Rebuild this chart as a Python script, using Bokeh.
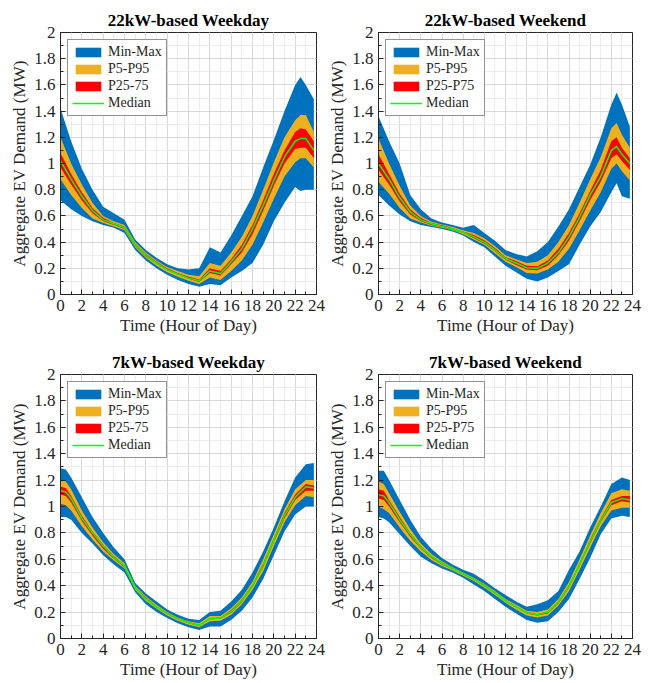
from bokeh.plotting import figure
from bokeh.layouts import gridplot
from bokeh.models import Range1d, FixedTicker, Legend
from bokeh.embed import file_html
from bokeh.resources import INLINE

# ---------------- data ----------------
HOURS_22 = [0, 1, 2, 3, 4, 5, 6, 7, 8, 9, 10, 11, 12, 13, 14, 15, 16, 17, 18, 19, 20, 21, 22, 22.5, 23, 23.75]
HOURS_7 = [0, 0.5, 1, 2, 3, 4, 5, 6, 7, 8, 9, 10, 11, 12, 13, 14, 15, 16, 17, 18, 19, 20, 21, 22, 23, 23.75]

# 22kW weekday
WD22_MIN = [0.72, 0.65, 0.60, 0.56, 0.53, 0.51, 0.47, 0.34, 0.26, 0.20, 0.15, 0.11, 0.08, 0.06, 0.08, 0.07, 0.13, 0.18, 0.24, 0.38, 0.56, 0.70, 0.82, 0.79, 0.80, 0.80]
WD22_P5 = [0.88, 0.76, 0.66, 0.58, 0.545, 0.52, 0.49, 0.36, 0.28, 0.22, 0.17, 0.135, 0.105, 0.08, 0.13, 0.11, 0.18, 0.26, 0.38, 0.55, 0.73, 0.90, 1.01, 1.04, 1.04, 0.97]
WD22_P25 = [0.97, 0.84, 0.72, 0.62, 0.56, 0.53, 0.50, 0.37, 0.29, 0.235, 0.185, 0.15, 0.12, 0.095, 0.165, 0.145, 0.23, 0.32, 0.46, 0.64, 0.83, 1.00, 1.11, 1.12, 1.12, 1.04]
WD22_MED = [1.02, 0.88, 0.75, 0.64, 0.57, 0.54, 0.51, 0.38, 0.30, 0.24, 0.19, 0.155, 0.125, 0.105, 0.18, 0.16, 0.25, 0.35, 0.50, 0.68, 0.87, 1.05, 1.17, 1.19, 1.19, 1.10]
WD22_P75 = [1.08, 0.92, 0.78, 0.66, 0.585, 0.545, 0.52, 0.39, 0.31, 0.25, 0.20, 0.165, 0.135, 0.115, 0.20, 0.18, 0.27, 0.38, 0.53, 0.72, 0.92, 1.10, 1.24, 1.27, 1.26, 1.17]
WD22_P95 = [1.20, 1.00, 0.84, 0.70, 0.60, 0.56, 0.53, 0.40, 0.32, 0.26, 0.21, 0.18, 0.15, 0.14, 0.24, 0.22, 0.32, 0.44, 0.60, 0.80, 1.01, 1.20, 1.33, 1.37, 1.37, 1.24]
WD22_MAX = [1.42, 1.17, 0.96, 0.80, 0.67, 0.62, 0.57, 0.42, 0.34, 0.28, 0.23, 0.20, 0.19, 0.20, 0.36, 0.32, 0.45, 0.60, 0.75, 0.97, 1.18, 1.40, 1.60, 1.66, 1.60, 1.49]

# 22kW weekend
WE22_MIN = [0.76, 0.68, 0.61, 0.56, 0.53, 0.515, 0.50, 0.48, 0.45, 0.40, 0.36, 0.29, 0.22, 0.17, 0.12, 0.10, 0.13, 0.18, 0.23, 0.38, 0.52, 0.63, 0.78, 0.85, 0.75, 0.73]
WE22_P5 = [0.86, 0.77, 0.66, 0.58, 0.55, 0.525, 0.51, 0.49, 0.46, 0.42, 0.38, 0.315, 0.25, 0.21, 0.165, 0.16, 0.19, 0.25, 0.35, 0.49, 0.64, 0.78, 0.96, 1.00, 0.94, 0.87]
WE22_P25 = [0.95, 0.84, 0.71, 0.61, 0.56, 0.53, 0.515, 0.495, 0.47, 0.43, 0.39, 0.33, 0.265, 0.225, 0.19, 0.185, 0.22, 0.30, 0.41, 0.56, 0.72, 0.86, 1.04, 1.07, 1.02, 0.95]
WE22_MED = [1.00, 0.88, 0.74, 0.63, 0.57, 0.54, 0.52, 0.50, 0.475, 0.44, 0.40, 0.34, 0.275, 0.24, 0.205, 0.20, 0.24, 0.32, 0.44, 0.59, 0.76, 0.90, 1.10, 1.13, 1.07, 1.00]
WE22_P75 = [1.07, 0.92, 0.77, 0.65, 0.585, 0.545, 0.528, 0.505, 0.48, 0.455, 0.415, 0.355, 0.285, 0.255, 0.22, 0.215, 0.26, 0.35, 0.47, 0.62, 0.79, 0.95, 1.17, 1.20, 1.12, 1.04]
WE22_P95 = [1.19, 1.00, 0.83, 0.68, 0.60, 0.555, 0.535, 0.515, 0.49, 0.47, 0.43, 0.37, 0.30, 0.27, 0.24, 0.25, 0.30, 0.40, 0.53, 0.70, 0.88, 1.05, 1.27, 1.31, 1.22, 1.12]
WE22_MAX = [1.36, 1.17, 1.00, 0.76, 0.65, 0.58, 0.55, 0.53, 0.51, 0.53, 0.47, 0.41, 0.34, 0.31, 0.29, 0.33, 0.40, 0.52, 0.65, 0.82, 0.99, 1.20, 1.45, 1.54, 1.45, 1.28]

# 7kW weekday
WD7_MIN = [0.92, 0.92, 0.90, 0.80, 0.72, 0.63, 0.56, 0.50, 0.35, 0.26, 0.20, 0.155, 0.115, 0.085, 0.065, 0.09, 0.09, 0.14, 0.21, 0.31, 0.45, 0.63, 0.81, 0.94, 1.00, 1.00]
WD7_P5 = [1.02, 1.01, 0.97, 0.85, 0.75, 0.66, 0.59, 0.53, 0.37, 0.285, 0.225, 0.175, 0.135, 0.105, 0.085, 0.13, 0.135, 0.18, 0.26, 0.37, 0.51, 0.70, 0.88, 1.01, 1.08, 1.07]
WD7_P25 = [1.09, 1.08, 1.03, 0.89, 0.78, 0.68, 0.605, 0.54, 0.38, 0.295, 0.235, 0.185, 0.145, 0.115, 0.095, 0.145, 0.15, 0.195, 0.275, 0.39, 0.54, 0.73, 0.91, 1.05, 1.12, 1.12]
WD7_MED = [1.12, 1.11, 1.06, 0.91, 0.80, 0.70, 0.615, 0.55, 0.385, 0.30, 0.24, 0.19, 0.15, 0.12, 0.10, 0.15, 0.155, 0.205, 0.285, 0.40, 0.555, 0.745, 0.93, 1.07, 1.15, 1.14]
WD7_P75 = [1.15, 1.14, 1.08, 0.93, 0.81, 0.71, 0.625, 0.555, 0.39, 0.31, 0.245, 0.195, 0.155, 0.125, 0.105, 0.155, 0.16, 0.215, 0.295, 0.41, 0.57, 0.76, 0.95, 1.09, 1.17, 1.16]
WD7_P95 = [1.20, 1.19, 1.13, 0.97, 0.84, 0.73, 0.64, 0.57, 0.40, 0.32, 0.255, 0.20, 0.16, 0.13, 0.115, 0.17, 0.17, 0.23, 0.31, 0.43, 0.60, 0.79, 0.98, 1.13, 1.20, 1.20]
WD7_MAX = [1.29, 1.28, 1.22, 1.07, 0.92, 0.80, 0.69, 0.60, 0.42, 0.34, 0.28, 0.22, 0.18, 0.15, 0.14, 0.20, 0.21, 0.28, 0.37, 0.50, 0.66, 0.84, 1.04, 1.22, 1.32, 1.33]

# 7kW weekend
WE7_MIN = [0.92, 0.91, 0.88, 0.79, 0.70, 0.62, 0.57, 0.53, 0.50, 0.46, 0.41, 0.36, 0.30, 0.24, 0.19, 0.14, 0.12, 0.13, 0.20, 0.30, 0.45, 0.61, 0.79, 0.91, 0.93, 0.92]
WE7_P5 = [1.00, 0.98, 0.95, 0.84, 0.74, 0.66, 0.595, 0.55, 0.515, 0.475, 0.435, 0.385, 0.33, 0.27, 0.22, 0.175, 0.16, 0.175, 0.25, 0.36, 0.52, 0.69, 0.85, 0.97, 0.99, 0.99]
WE7_P25 = [1.06, 1.05, 1.00, 0.88, 0.77, 0.68, 0.61, 0.56, 0.525, 0.485, 0.445, 0.395, 0.34, 0.28, 0.235, 0.19, 0.175, 0.19, 0.265, 0.385, 0.55, 0.72, 0.88, 1.01, 1.04, 1.03]
WE7_MED = [1.09, 1.08, 1.03, 0.90, 0.79, 0.69, 0.62, 0.57, 0.53, 0.49, 0.45, 0.40, 0.345, 0.285, 0.24, 0.195, 0.18, 0.20, 0.275, 0.395, 0.56, 0.735, 0.895, 1.03, 1.06, 1.05]
WE7_P75 = [1.13, 1.12, 1.05, 0.92, 0.80, 0.70, 0.625, 0.575, 0.535, 0.495, 0.455, 0.41, 0.35, 0.29, 0.245, 0.20, 0.185, 0.205, 0.285, 0.405, 0.57, 0.75, 0.91, 1.05, 1.08, 1.08]
WE7_P95 = [1.19, 1.17, 1.10, 0.96, 0.83, 0.72, 0.64, 0.585, 0.54, 0.50, 0.46, 0.415, 0.36, 0.30, 0.255, 0.21, 0.20, 0.22, 0.30, 0.43, 0.60, 0.78, 0.95, 1.10, 1.13, 1.12]
WE7_MAX = [1.27, 1.27, 1.20, 1.05, 0.90, 0.77, 0.68, 0.61, 0.56, 0.52, 0.49, 0.44, 0.38, 0.33, 0.28, 0.24, 0.26, 0.29, 0.36, 0.52, 0.66, 0.84, 1.00, 1.17, 1.22, 1.20]

X_TICKS = [0, 2, 4, 6, 8, 10, 12, 14, 16, 18, 20, 22, 24]
X_MINOR = [0, 1, 2, 3, 4, 5, 6, 7, 8, 9, 10, 11, 12, 13, 14, 15, 16, 17, 18, 19, 20, 21, 22, 23, 24]
Y_TICKS = [0, 0.2, 0.4, 0.6, 0.8, 1, 1.2, 1.4, 1.6, 1.8, 2]
Y_TICK_LABELS = ["0", "0.2", "0.4", "0.6", "0.8", "1", "1.2", "1.4", "1.6", "1.8", "2"]
Y_MINOR = [0, 0.1, 0.2, 0.3, 0.4, 0.5, 0.6, 0.7, 0.8, 0.9, 1, 1.1, 1.2, 1.3, 1.4, 1.5, 1.6, 1.7, 1.8, 1.9, 2]

FONT = "'Liberation Serif', serif"
TXT = "#262626"
C_MINMAX = "#0072BD"
C_P595 = "#EDB120"
C_IQR = "#FF0000"
C_MED = "#00FF00"


def make_panel(title, hours, mn, p5, p25, med, p75, p95, mx, iqr_label,
               width, height, left, right, top, bottom):
    p = figure(width=width, height=height, x_range=Range1d(0, 24), y_range=Range1d(0, 2),
               output_backend="svg", toolbar_location=None,
               min_border_left=left, min_border_right=right,
               min_border_top=top, min_border_bottom=bottom)
    p.title.text = title
    p.title.text_font = FONT
    p.title.text_font_size = "17px"
    p.title.text_font_style = "bold"
    p.title.text_color = "black"
    p.title.align = "center"
    p.title.standoff = 6

    r1 = p.varea(x=hours, y1=mn, y2=mx, fill_color=C_MINMAX)
    r2 = p.varea(x=hours, y1=p5, y2=p95, fill_color=C_P595)
    r3 = p.varea(x=hours, y1=p25, y2=p75, fill_color=C_IQR)
    r4 = p.line(x=hours, y=med, line_color=C_MED, line_width=1.5)

    legend = Legend(items=[("Min-Max", [r1]), ("P5-P95", [r2]), (iqr_label, [r3]), ("Median", [r4])],
                    location="top_left")
    legend.label_text_font = FONT
    legend.label_text_font_size = "14px"
    legend.label_text_color = TXT
    legend.glyph_width = 32
    legend.glyph_height = 12
    legend.label_height = 16
    legend.label_standoff = 4
    legend.spacing = 1
    legend.padding = 4
    legend.margin = 7
    legend.border_line_color = TXT
    legend.border_line_width = 1
    legend.background_fill_alpha = 1
    p.add_layout(legend)

    p.xaxis.ticker = FixedTicker(ticks=X_TICKS, minor_ticks=X_MINOR)
    p.yaxis.ticker = FixedTicker(ticks=Y_TICKS, minor_ticks=Y_MINOR)
    p.yaxis.major_label_overrides = dict(zip(Y_TICKS, Y_TICK_LABELS))
    p.xaxis.axis_label = "Time (Hour of Day)"
    p.yaxis.axis_label = "Aggregate EV Demand (MW)"
    for ax in (p.xaxis, p.yaxis):
        ax.axis_label_text_font = FONT
        ax.axis_label_text_font_size = "17px"
        ax.axis_label_text_font_style = "normal"
        ax.axis_label_text_color = TXT
        ax.major_label_text_font = FONT
        ax.major_label_text_font_size = "17px"
        ax.major_label_text_color = TXT
        ax.axis_line_color = TXT
        ax.major_tick_line_color = TXT
        ax.minor_tick_line_color = TXT
        ax.major_tick_in = 5
        ax.major_tick_out = 0
        ax.minor_tick_in = 3
        ax.minor_tick_out = 0
        ax.axis_label_standoff = 2
    p.xaxis.major_label_standoff = 5
    p.yaxis.major_label_standoff = 5

    for g in (p.xgrid, p.ygrid):
        g.grid_line_color = "#d9d9d9"
        g.grid_line_width = 1
        g.minor_grid_line_color = "#ececec"
        g.minor_grid_line_width = 1

    p.outline_line_color = TXT
    p.outline_line_width = 1
    p.background_fill_color = "white"
    p.border_fill_color = "white"
    return p


p1 = make_panel("22kW-based Weekday", HOURS_22, WD22_MIN, WD22_P5, WD22_P25, WD22_MED, WD22_P75, WD22_P95, WD22_MAX,
                "P25-75", 325, 342, 60, 9, 32, 48)
p2 = make_panel("22kW-based Weekend", HOURS_22, WE22_MIN, WE22_P5, WE22_P25, WE22_MED, WE22_P75, WE22_P95, WE22_MAX,
                "P25-P75", 325, 342, 48, 18, 32, 48)
p3 = make_panel("7kW-based Weekday", HOURS_7, WD7_MIN, WD7_P5, WD7_P25, WD7_MED, WD7_P75, WD7_P95, WD7_MAX,
                "P25-75", 325, 341, 60, 9, 32, 45)
p4 = make_panel("7kW-based Weekend", HOURS_7, WE7_MIN, WE7_P5, WE7_P25, WE7_MED, WE7_P75, WE7_P95, WE7_MAX,
                "P25-P75", 325, 341, 48, 18, 32, 45)

grid = gridplot([[p1, p2], [p3, p4]], toolbar_location=None)

open("out.html", "w").write(file_html(grid, INLINE))
